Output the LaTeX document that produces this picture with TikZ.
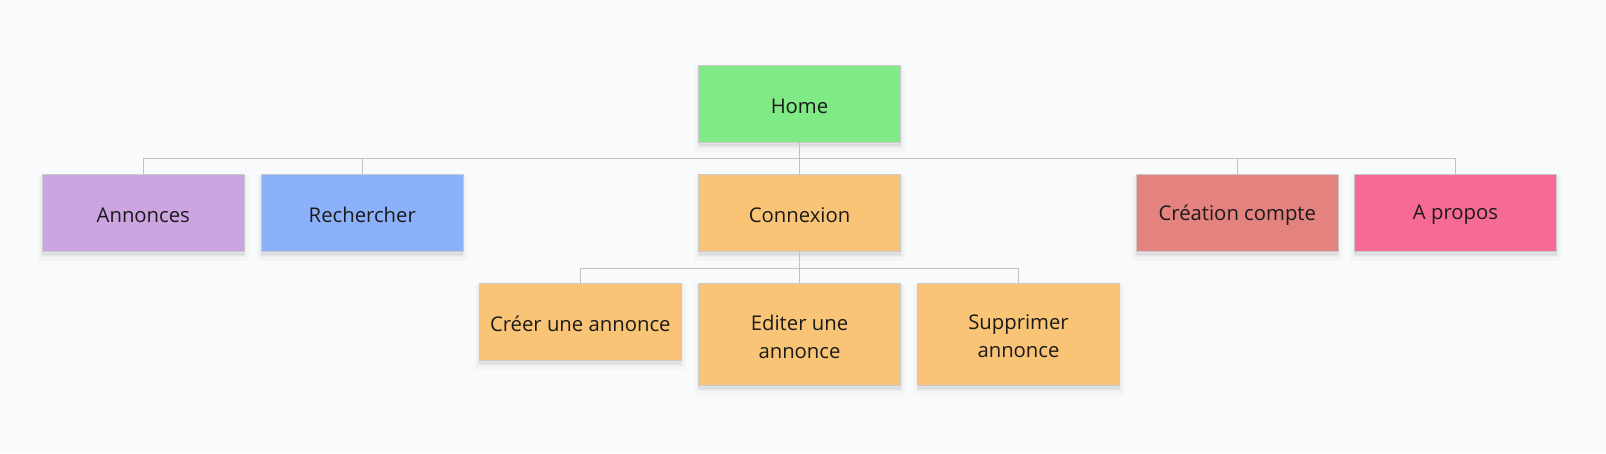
\documentclass[tikz,border=0pt]{standalone}
\usepackage{fontspec}
\setmainfont{Open Sans}
\definecolor{bg}{HTML}{F9FAFB}
\definecolor{edge}{HTML}{C9C9C9}
\definecolor{wire}{HTML}{C2C2C2}
\definecolor{cgreen}{HTML}{80EA86}
\definecolor{clav}{HTML}{CBA4E0}
\definecolor{cblue}{HTML}{8CB1FB}
\definecolor{corange}{HTML}{F9C475}
\definecolor{cred}{HTML}{E48280}
\definecolor{cpink}{HTML}{F56B95}
\definecolor{txt}{HTML}{1A1A1A}
\newcommand\lowr[1]{\raisebox{-2.5pt}[\height][\depth]{#1}}
\tikzset{
  card/.style={draw=edge, line width=1pt, minimum width=202pt, minimum height=77pt,
    inner sep=0pt, align=center, text=txt, font=\fontsize{20.3}{28}\selectfont,
    preaction={draw=black, draw opacity=0.02, fill=black, fill opacity=0.03, line width=9pt, transform canvas={yshift=-5pt}},
    preaction={draw=black, draw opacity=0.03, fill=black, fill opacity=0.03, line width=4pt, transform canvas={yshift=-4pt}}},
  tall/.style={minimum height=102pt},
  wireline/.style={draw=wire, line width=1pt}
}
\begin{document}
\begin{tikzpicture}[x=1pt,y=-1pt]
\fill[bg] (0,0) rectangle (1606,453);
\useasboundingbox (0,0) rectangle (1606,453);
\node[card, fill=cgreen] (home) at (799.5,103.5) {\lowr{Home}};
\node[card, fill=clav] (annonces) at (143.3,212.5) {\lowr{Annonces}};
\node[card, fill=cblue] (rech) at (362.3,212.5) {\lowr{Rechercher}};
\node[card, fill=corange] (conn) at (799.5,212.5) {\lowr{Connexion}};
\node[card, fill=cred] (creation) at (1237.3,212.5) {\lowr{Création compte}};
\node[card, fill=cpink] (apropos) at (1455.5,212.5) {\lowr{A propos}};
\node[card, fill=corange] (creer) at (580.3,321.5) {\lowr{Créer une annonce}};
\node[card, tall, fill=corange] (editer) at (799.5,334) {\lowr{Editer une}\\\lowr{annonce}};
\node[card, tall, fill=corange] (suppr) at (1018.5,334) {\lowr{Supprimer}\\\lowr{annonce}};
\foreach \c in {annonces,rech,conn,creation,apropos}
  \draw[wireline] (home.south) -- ++(0,16) -| (\c.north);
\foreach \c in {creer,editer,suppr}
  \draw[wireline] (conn.south) -- ++(0,17) -| (\c.north);
\end{tikzpicture}
\end{document}
